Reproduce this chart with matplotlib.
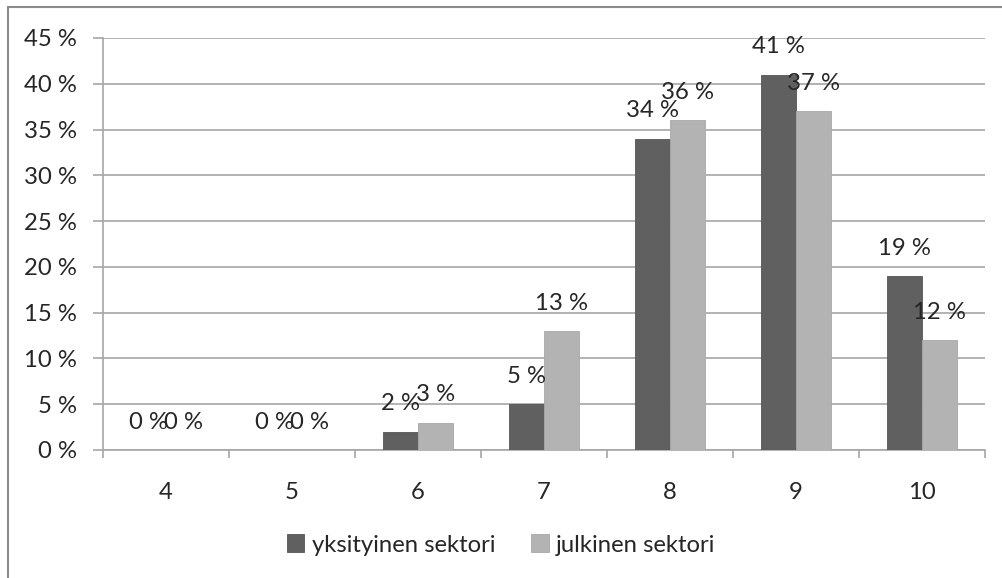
import numpy as np
import matplotlib
matplotlib.use("Agg")
import matplotlib.pyplot as plt
from matplotlib.patches import Rectangle

categories = ["4", "5", "6", "7", "8", "9", "10"]
yksityinen = [0, 0, 2, 5, 34, 41, 19]
julkinen = [0, 0, 3, 13, 36, 37, 12]
series_labels = ["yksityinen sektori", "julkinen sektori"]
yticks = [0, 5, 10, 15, 20, 25, 30, 35, 40, 45]

DARK = "#606060"
LIGHT = "#b3b3b3"
GRID = "#a6a6a6"
TXT = "#262626"
FS = 17.2

plt.rcParams["font.family"] = ["Lato", "DejaVu Sans"]

fig = plt.figure(figsize=(10.02, 5.78), dpi=100)
ax = fig.add_axes([103 / 1002, 1 - 450 / 578, (985 - 103) / 1002, (450 - 38) / 578])

x = np.arange(len(categories))
w = 0.277
b1 = ax.bar(x - w / 2, yksityinen, w, color=DARK, edgecolor="#555555", linewidth=0.6, zorder=3,
            label=series_labels[0])
b2 = ax.bar(x + w / 2, julkinen, w, color=LIGHT, edgecolor="#a8a8a8", linewidth=0.6, zorder=3,
            label=series_labels[1])

for bars, vals in ((b1, yksityinen), (b2, julkinen)):
    for rect, v in zip(bars, vals):
        ax.annotate("%d %%" % v, xy=(rect.get_x() + rect.get_width() / 2, v),
                    xytext=(0, 12.5), textcoords="offset points", ha="center", va="bottom",
                    fontsize=FS, color=TXT, zorder=4)

ax.set_xlim(-0.5, len(categories) - 0.5)
ax.set_ylim(0, 45)
ax.set_yticks(yticks)
ax.set_yticklabels(["%d %%" % t for t in yticks], fontsize=FS, color=TXT)
ax.yaxis.grid(True, color=GRID, linewidth=1.2, zorder=0)
ax.set_axisbelow(True)

# category labels in the middle, tick marks on the boundaries
ax.set_xticks(x)
ax.set_xticklabels(categories, fontsize=FS, color=TXT)
ax.tick_params(axis="x", which="major", length=0, pad=23)
ax.set_xticks(np.arange(len(categories) + 1) - 0.5, minor=True)
ax.tick_params(axis="x", which="minor", length=6, width=1.2, color=GRID)
ax.tick_params(axis="y", length=7, width=1.2, color=GRID, pad=12)

for s in ("top", "right"):
    ax.spines[s].set_visible(False)
for s in ("left", "bottom"):
    ax.spines[s].set_color(GRID)
    ax.spines[s].set_linewidth(1.2)

fig.legend(loc="center", bbox_to_anchor=(0.5, 1 - 545 / 578), ncol=2, frameon=False,
           fontsize=FS, handlelength=0.75, handleheight=0.75, handletextpad=0.3,
           columnspacing=1.5, labelcolor=TXT)

# outer chart frame (only left and top are inside the picture)
fig.patches.append(Rectangle((8 / 1002, -0.1), 1.2, 1 - 7 / 578 + 0.1, transform=fig.transFigure,
                             fill=False, edgecolor="#8c8c8c", linewidth=1.5))

fig.savefig("out.png", dpi=100)
